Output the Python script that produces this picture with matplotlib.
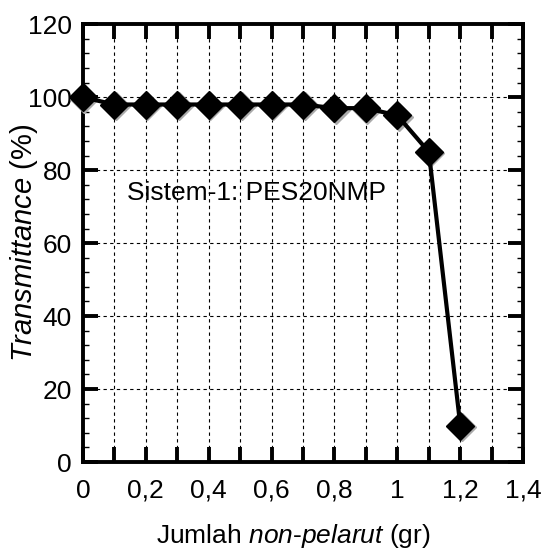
import matplotlib
matplotlib.use("Agg")
import matplotlib.pyplot as plt
import matplotlib.transforms as mtransforms
from matplotlib.ticker import MultipleLocator, FuncFormatter

# data
jumlah = [0, 0.1, 0.2, 0.3, 0.4, 0.5, 0.6, 0.7, 0.8, 0.9, 1.0, 1.1, 1.2]
transmittance = [100, 98, 98, 98, 98, 98, 98, 98, 97, 97, 95, 85, 10]
label_text = "Sistem-1: PES20NMP"

plt.rcParams['font.family'] = ['Liberation Sans', 'DejaVu Sans']
plt.rcParams['mathtext.fontset'] = 'custom'
plt.rcParams['mathtext.rm'] = 'Liberation Sans'
plt.rcParams['mathtext.it'] = 'Liberation Sans:italic'

fig = plt.figure(figsize=(5.45, 5.51), dpi=100)
ax = fig.add_axes([0.152, 0.1615, 0.808, 0.7945])

# thin grey shadow on the lower right of each marker
shadow = mtransforms.offset_copy(ax.transData, fig=fig, x=1.5, y=-1.5, units='dots')
ax.plot(jumlah, transmittance, linestyle='none', marker='D', markersize=14,
        color='#aaaaaa', transform=shadow, zorder=3, clip_on=False)
ax.plot(jumlah, transmittance, color='black', linewidth=3, marker='D',
        markersize=14, markerfacecolor='black', markeredgecolor='black', zorder=4, clip_on=False)

ax.text(0.14, 71.8, label_text, fontsize=19, va='baseline', ha='left')

ax.set_xlim(0, 1.4)
ax.set_ylim(0, 120)
ax.xaxis.set_major_locator(MultipleLocator(0.1))
ax.yaxis.set_major_locator(MultipleLocator(20))
ax.yaxis.set_minor_locator(MultipleLocator(4))


def fmt_x(v, pos):
    i = int(round(v * 10))
    if i % 2:
        return ""
    s = "%g" % (i / 10)
    return s.replace(".", ",")


ax.xaxis.set_major_formatter(FuncFormatter(fmt_x))

ax.grid(True, which='major', color='black', linestyle=(0, (3, 3)), linewidth=0.8)
ax.set_axisbelow(True)

for sp in ax.spines.values():
    sp.set_linewidth(2.8)

ax.tick_params(which='major', direction='in', length=11, width=2.8, top=True, right=True,
               labelsize=19)
ax.tick_params(axis='x', which='major', pad=12)
ax.tick_params(axis='y', which='major', pad=8)
ax.tick_params(which='minor', direction='in', length=4, width=1, top=False, right=True)

ax.set_xlabel(r"Jumlah $\mathit{non}$-$\mathit{pelarut}$ (gr)", fontsize=19)
ax.set_ylabel(r"$\mathit{Transmittance}$ (%)", fontsize=21)
ax.xaxis.label.set_va('baseline')
ax.yaxis.label.set_va('baseline')
ax.xaxis.set_label_coords(0.477, -0.185)
ax.yaxis.set_label_coords(-0.116, 0.5)

fig.savefig("out.png", dpi=100)
